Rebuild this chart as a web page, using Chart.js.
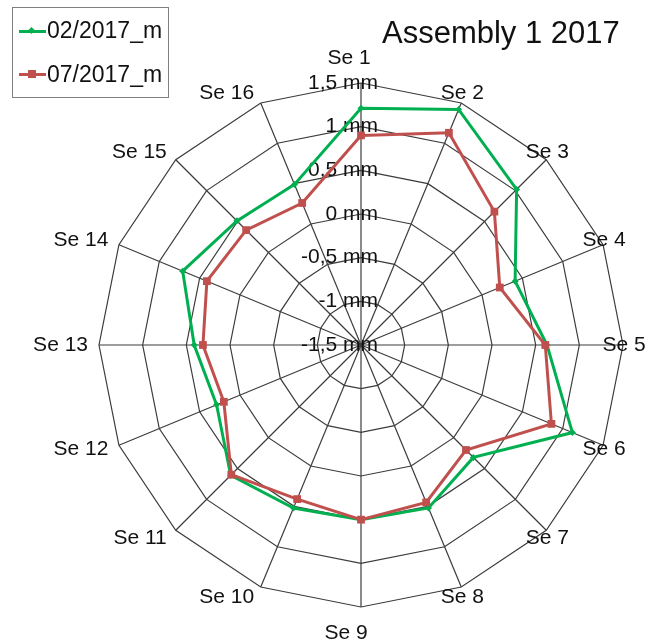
<!DOCTYPE html>
<html>
<head>
<meta charset="utf-8">
<script src="https://cdn.jsdelivr.net/npm/chart.js@4.4.1/dist/chart.umd.min.js"></script>
<style>
  body { margin: 0; background: #fff; }
  #wrap { position: relative; width: 662px; height: 644px; font-family: "Liberation Sans", Arial, sans-serif; color: #111; }
  #title { position: absolute; left: 382px; top: 17px; font-size: 31px; line-height: 31px; white-space: nowrap; }
  #legend { position: absolute; left: 12px; top: 7px; width: 157px; height: 91px; border: 1px solid #808080; box-sizing: border-box; }
  .item { position: absolute; left: 0; font-size: 23px; line-height: 23px; white-space: nowrap; }
  .item .ln { position: absolute; left: 6px; width: 27px; height: 3px; }
  .item .mk { position: absolute; }
  .item .tx { position: absolute; left: 34px; top: 0; }
</style>
</head>
<body>
<div id="wrap">
  <canvas id="RADAR" width="662" height="644"></canvas>
  <div id="title">Assembly 1 2017</div>
  <div id="legend">
    <div class="item" style="top:11px">
      <span class="ln" style="top:11px;background:#00B050"></span>
      <span class="mk" style="left:16px;top:9px;width:5px;height:5px;background:#00B050;transform:rotate(45deg)"></span>
      <span class="tx">02/2017_m</span>
    </div>
    <div class="item" style="top:55px">
      <span class="ln" style="top:10px;background:#C0504D"></span>
      <span class="mk" style="left:15px;top:7px;width:8px;height:8px;background:#C0504D"></span>
      <span class="tx">07/2017_m</span>
    </div>
  </div>
</div>
<script>
// categories and series (mm)
var labels = ['Se 1', 'Se 2', 'Se 3', 'Se 4', 'Se 5', 'Se 6', 'Se 7', 'Se 8',
              'Se 9', 'Se 10', 'Se 11', 'Se 12', 'Se 13', 'Se 14', 'Se 15', 'Se 16'];
var feb2017 = [1.21, 1.42, 1.02, 0.41, 0.63, 1.12, 0.32, 0.52, 0.50, 0.52, 0.61, 0.29, 0.41, 0.71, 0.51, 0.49];
var jul2017 = [0.90, 1.13, 0.66, 0.22, 0.61, 0.86, 0.20, 0.45, 0.50, 0.41, 0.60, 0.20, 0.31, 0.41, 0.36, 0.26];
var tickValues = [-1.5, -1, -0.5, 0, 0.5, 1, 1.5];

var FONT = '"Liberation Sans", Arial, sans-serif';

function mmLabel(v) {
    return String(v).replace('.', ',') + ' mm';
}

// excel-like tick labels (right aligned next to the Se 1 axis) and point labels
var labelPlugin = {
    id: 'labelPlugin',
    beforeDatasetsDraw: function (chart) {
        var scale = chart.scales.r;
        var ctx = chart.ctx;
        ctx.save();
        ctx.fillStyle = '#111';
        ctx.font = '21px ' + FONT;
        ctx.textBaseline = 'middle';
        ctx.textAlign = 'right';
        tickValues.forEach(function (v) {
            var d = scale.getDistanceFromCenterForValue(v);
            ctx.fillText(mmLabel(v), scale.xCenter + 17, scale.yCenter - d);
        });

        labels.forEach(function (lab, i) {
            var p = scale.getPointPosition(i, scale.drawingArea);
            var c = Math.cos(p.angle), s = Math.sin(p.angle);
            if (i === 0) {
                ctx.textAlign = 'center';
                ctx.fillText(lab, p.x - 12, p.y - 25);
            } else if (i === 8) {
                ctx.textAlign = 'center';
                ctx.fillText(lab, p.x - 15, p.y + 26);
            } else if (c > 0) {
                ctx.textAlign = 'center';
                ctx.fillText(lab, p.x + 1, p.y + s * 11);
            } else {
                ctx.textAlign = 'right';
                ctx.fillText(lab, p.x - 4 - 7 * Math.abs(c), p.y + s * 11);
            }
        });
        ctx.restore();
    }
};

var ctx = document.getElementById('RADAR').getContext('2d');
var myChart = new Chart(ctx, {
    type: 'radar',
    data: {
        labels: labels,
        datasets: [{
            label: '07/2017_m',
            data: jul2017,
            borderColor: '#C0504D',
            backgroundColor: '#C0504D',
            borderWidth: 3,
            fill: false,
            pointStyle: 'rect',
            pointRadius: 5.5,
            pointBorderWidth: 0,
            tension: 0
        }, {
            label: '02/2017_m',
            data: feb2017,
            borderColor: '#00B050',
            backgroundColor: '#00B050',
            borderWidth: 3,
            fill: false,
            pointStyle: 'rectRot',
            pointRadius: 3.5,
            pointBorderWidth: 0,
            tension: 0
        }]
    },
    options: {
        responsive: false,
        animation: false,
        layout: {
            padding: { left: 99, right: 39, top: 83, bottom: 37 }
        },
        scales: {
            r: {
                min: -1.5,
                max: 1.5,
                beginAtZero: false,
                ticks: { stepSize: 0.5, display: false },
                pointLabels: { display: false },
                grid: { color: '#3c3c3c', lineWidth: 1.2, circular: false },
                angleLines: { color: '#3c3c3c', lineWidth: 1.2 }
            }
        },
        plugins: {
            legend: { display: false },
            tooltip: { enabled: false }
        }
    },
    plugins: [labelPlugin]
});
</script>
</body>
</html>
